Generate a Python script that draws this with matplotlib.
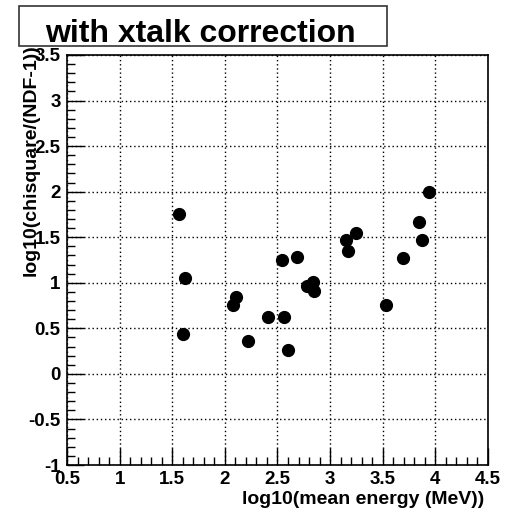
import matplotlib
matplotlib.use('Agg')
import matplotlib.pyplot as plt
from matplotlib.ticker import MultipleLocator
from matplotlib.patches import Rectangle

# log10(mean energy) and log10(chisquare/(NDF-1))
log_energy = [1.56, 1.62, 1.60, 2.08, 2.11, 2.22, 2.41, 2.54, 2.56, 2.60, 2.69,
              2.78, 2.84, 2.85, 3.15, 3.17, 3.25, 3.53, 3.69, 3.84, 3.87, 3.94]
log_chi2 = [1.76, 1.05, 0.44, 0.76, 0.84, 0.36, 0.62, 1.25, 0.62, 0.26, 1.28,
            0.96, 1.01, 0.91, 1.47, 1.35, 1.55, 0.76, 1.27, 1.67, 1.47, 2.00]

plt.rcParams['font.family'] = 'Liberation Sans'
plt.rcParams['font.weight'] = 'bold'

fig = plt.figure(figsize=(5.06, 5.09), dpi=100)
ax = fig.add_axes([0.1324, 0.0864, 0.8320, 0.8056])

ax.plot(log_energy, log_chi2, 'o', color='black', markersize=8.5, zorder=3)

ax.set_xlim(0.5, 4.5)
ax.set_ylim(-1, 3.5)
ax.xaxis.set_minor_locator(MultipleLocator(0.1))
ax.yaxis.set_minor_locator(MultipleLocator(0.1))
ax.set_xticks([0.5, 1, 1.5, 2, 2.5, 3, 3.5, 4, 4.5])
ax.set_xticklabels(['0.5', '1', '1.5', '2', '2.5', '3', '3.5', '4', '4.5'])
ax.set_yticks([-1, -0.5, 0, 0.5, 1, 1.5, 2, 2.5, 3, 3.5])
ax.set_yticklabels(['-1', '-0.5', '0', '0.5', '1', '1.5', '2', '2.5', '3', '3.5'])

ax.tick_params(which='major', direction='in', length=12, width=1, labelsize=13.5,
               top=False, right=False)
ax.tick_params(which='minor', direction='in', length=6, width=1, top=False, right=False)
ax.tick_params(axis='x', pad=4.5)
ax.tick_params(axis='y', pad=4.5)

ax.grid(True, which='major', color='black', linestyle=(0, (1, 2)), linewidth=1)
for s in ax.spines.values():
    s.set_linewidth(1.2)

ax.set_xlabel('log10(mean energy (MeV))', fontsize=14, fontweight='bold')
ax.xaxis.set_label_coords(0.99, -0.063)
ax.xaxis.label.set_ha('right')
ax.set_ylabel('log10(chisquare/(NDF-1))', fontsize=14, fontweight='bold')
ax.yaxis.set_label_coords(-0.065, 1.025)
ax.yaxis.label.set_ha('right')

# title box
fig.patches.append(Rectangle((19 / 506, 1 - 46 / 509), 368 / 506, 40 / 509,
                             transform=fig.transFigure, facecolor='white',
                             edgecolor='#333333', linewidth=1.2))
fig.text(200 / 506, 1 - 42 / 509, 'with xtalk correction', fontsize=23,
         fontweight='bold', ha='center', va='baseline')

fig.savefig('out.png', dpi=100)
